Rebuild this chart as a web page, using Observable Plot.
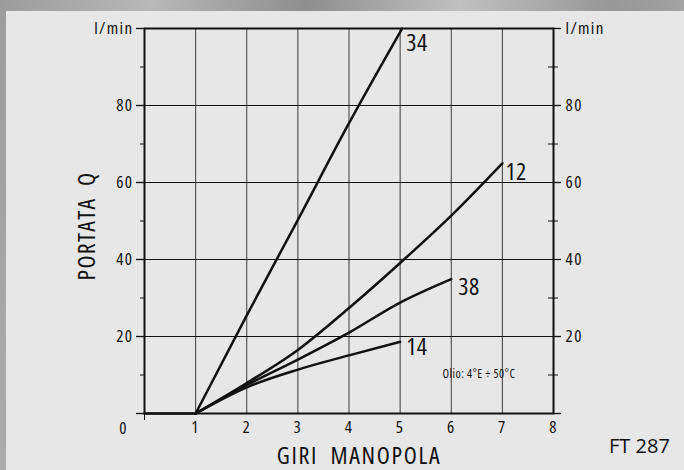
<!DOCTYPE html>
<html>
<head>
<meta charset="utf-8">
<script src="https://cdn.jsdelivr.net/npm/d3@7"></script>
<script src="https://cdn.jsdelivr.net/npm/@observablehq/plot@0.6"></script>
<style>
  html, body { margin: 0; padding: 0; }
  body {
    width: 684px; height: 470px; overflow: hidden; position: relative;
    background: linear-gradient(100deg, #9c9c9c 0%, #b8b8b8 20%, #8e8e8e 40%, #c0c0c0 60%, #979797 80%, #b0b0b0 100%);
  }
  #panel {
    position: absolute; left: 6px; top: 11px; width: 678px; height: 459px;
    background: #e7e7e7;
  }
  #panel svg { position: absolute; left: 0; top: 0; }
  #panel svg text { font-stretch: 75%; letter-spacing: 1.4px; }
  #code {
    position: absolute; left: 609px; top: 432px;
    font-family: "Open Sans", "Noto Sans", sans-serif; font-size: 20px; color: #111;
  }
</style>
</head>
<body>
<div id="panel"></div>
<div id="code">FT 287</div>
<script>
// ---- data ----
const xTicks = [1, 2, 3, 4, 5, 6, 7, 8];
const xGrid = [1, 2, 3, 4, 5, 6, 7];
const yTicks = [0, 20, 40, 60, 80, 100];
const yTickLabels = ["", "20", "40", "60", "80", "l/min"];
const yGrid = [20, 40, 60, 80];
const yMinor = [10, 30, 50, 70, 90];

const s34x = [1, 2, 3, 4, 5.04];
const s34y = [0, 25.5, 50.3, 75.4, 100];
const s12x = [1, 2, 3, 4, 5, 6, 7];
const s12y = [0, 7.9, 16.5, 27.4, 39.1, 51.4, 65];
const s38x = [1, 2, 3, 4, 5, 6];
const s38y = [0, 7.4, 14, 21, 28.8, 34.9];
const s14x = [1, 2, 3, 4, 5];
const s14y = [0, 6.8, 11.4, 15.1, 18.6];
const seriesNames = ["34", "12", "38", "14"];
const baseX = [0, 1];
const baseY = [0, 0];
const note = "Olio: 4°E ÷ 50°C";
const noteAt = {x: 5.83, y: 10.3};

// ---- build tables ----
const seriesXY = {"34": [s34x, s34y], "12": [s12x, s12y], "38": [s38x, s38y], "14": [s14x, s14y]};
const lines = [];
for (const name of seriesNames) {
  const [xs, ys] = seriesXY[name];
  xs.forEach((x, i) => lines.push({name, x, y: ys[i]}));
}
const ends = seriesNames.map(name => {
  const [xs, ys] = seriesXY[name];
  return {name, x: xs[xs.length - 1], y: ys[ys.length - 1]};
});
const labelOffset = {"34": [4, 15], "12": [3, 9], "38": [7, 8], "14": [6, 5]};
const base = baseX.map((x, i) => ({x, y: baseY[i]}));

const font = '"Open Sans", "Liberation Sans", sans-serif';
const ink = "#111";

const chart = Plot.plot({
  width: 678,
  height: 459,
  marginLeft: 138,
  marginRight: 131,
  marginTop: 17,
  marginBottom: 57,
  style: {fontFamily: font, background: "transparent", color: ink, overflow: "visible"},
  x: {domain: [0, 8]},
  y: {domain: [0, 100]},
  marks: [
    Plot.ruleX(xGrid, {stroke: "#3c3c3c", strokeWidth: 1}),
    Plot.ruleY(yGrid, {stroke: ink, strokeWidth: 1.2}),
    Plot.axisY({anchor: "left", ticks: yTicks, tickSize: 8, tickPadding: 3, strokeWidth: 1.3,
      tickFormat: d => yTickLabels[yTicks.indexOf(d)], fontSize: 17, label: null}),
    Plot.axisY({anchor: "right", ticks: yTicks, tickSize: 7, tickPadding: 5, strokeWidth: 1.3,
      tickFormat: d => yTickLabels[yTicks.indexOf(d)], fontSize: 17, label: null}),
    Plot.axisY({anchor: "left", ticks: yMinor, tickSize: 4, tickFormat: () => "", label: null}),
    Plot.axisY({anchor: "right", ticks: yMinor, tickSize: 10, dx: -6, tickFormat: () => "", label: null}),
    Plot.axisX({ticks: xTicks, tickSize: 0, tickPadding: 7, fontSize: 17, label: null}),
    Plot.axisX({ticks: [0], tickSize: 12, dy: -5, tickFormat: () => "", label: null}),
    Plot.text([{x: 0, y: 0}], {x: "x", y: "y", text: () => "0", dx: -21, dy: 15, fontSize: 17, fill: ink}),
    Plot.frame({stroke: ink, strokeWidth: 2}),
    Plot.line(base, {x: "x", y: "y", stroke: ink, strokeWidth: 2.5}),
    Plot.line(lines, {x: "x", y: "y", z: "name", curve: "monotone-x", stroke: ink, strokeWidth: 2.5}),
    ...ends.map(e => Plot.text([e], {x: "x", y: "y", text: "name", textAnchor: "start", fontSize: 24, fill: ink,
      dx: labelOffset[e.name][0], dy: labelOffset[e.name][1]})),
    Plot.text([noteAt], {x: "x", y: "y", text: () => note, textAnchor: "start", fontSize: 12, fill: ink}),
    Plot.text(["PORTATA  Q"], {frameAnchor: "left", textAnchor: "middle", rotate: -90, dx: -57, dy: 5, fontSize: 24, fill: ink}),
    Plot.text(["GIRI  MANOPOLA"], {frameAnchor: "bottom", textAnchor: "middle", dx: 10, dy: 50, fontSize: 24, fill: ink})
  ]
});
document.getElementById("panel").appendChild(chart);
chart.querySelectorAll("text").forEach(t => {
  t.setAttribute("xml:space", "preserve");
  t.style.whiteSpace = "pre";
  const s = t.textContent;
  if (s === note) t.style.letterSpacing = "0.45px";
  else if (s === "GIRI  MANOPOLA") t.style.letterSpacing = "1.7px";
  else if (s === "PORTATA  Q") t.style.letterSpacing = "1.3px";
  else if (seriesNames.includes(s) && +t.getAttribute("font-size") !== 17) t.style.letterSpacing = "0.5px";
});
</script>
</body>
</html>
